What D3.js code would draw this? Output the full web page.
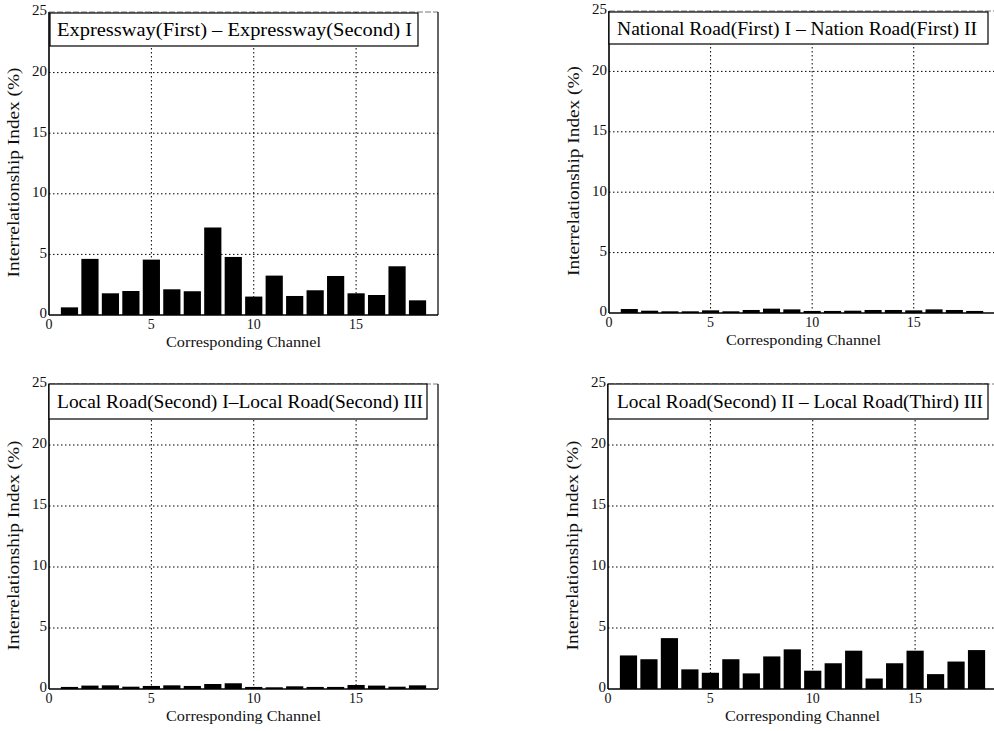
<!DOCTYPE html>
<html><head><meta charset="utf-8">
<script src="https://cdn.jsdelivr.net/npm/d3@7"></script>
<style>body{margin:0;background:#fff}</style>
</head><body>
<svg id="c" width="994" height="731" xmlns="http://www.w3.org/2000/svg"></svg>
<script>
// ---- data ----
const channels = [1,2,3,4,5,6,7,8,9,10,11,12,13,14,15,16,17,18];
const expresswayValues = [0.63,4.63,1.79,1.98,4.57,2.12,1.96,7.22,4.79,1.52,3.25,1.57,2.04,3.22,1.79,1.65,4.02,1.21];
const nationalRoadValues = [0.33,0.19,0.14,0.14,0.22,0.14,0.25,0.36,0.30,0.17,0.17,0.19,0.25,0.25,0.22,0.30,0.25,0.17];
const localSecondValues = [0.17,0.28,0.30,0.19,0.25,0.30,0.25,0.41,0.47,0.17,0.14,0.22,0.17,0.17,0.33,0.28,0.19,0.30];
const localThirdValues = [2.75,2.44,4.17,1.61,1.33,2.44,1.28,2.67,3.25,1.50,2.11,3.14,0.86,2.11,3.14,1.22,2.25,3.19];
const panelTitles = [
  "Expressway(First) \u2013 Expressway(Second) I",
  "National Road(First) I \u2013 Nation Road(First) II",
  "Local Road(Second) I\u2013Local Road(Second) III",
  "Local Road(Second) II \u2013 Local Road(Third) III"
];
const xTicks = [0,5,10,15];
const yTicks = [0,5,10,15,20,25];
const xDomain = [0,19];
const yDomain = [0,25];
const xLabel = "Corresponding Channel";
const yLabel = "Interrelationship Index (%)";

// ---- layout ----
const panels = [
  {values: expresswayValues, title: panelTitles[0], x0:49, x1:438, y0:12, y1:315,
   leg:{x:50, y:13, w:368, h:33, tx:57, tw:355}, showRight:true},
  {values: nationalRoadValues, title: panelTitles[1], x0:609, x1:995, y0:11, y1:313,
   leg:{x:609, y:12, w:379, h:32, tx:617, tw:360}, showRight:false},
  {values: localSecondValues, title: panelTitles[2], x0:49, x1:438, y0:384, y1:689,
   leg:{x:49, y:384, w:378, h:35, tx:57, tw:366}, showRight:true},
  {values: localThirdValues, title: panelTitles[3], x0:608, x1:997, y0:384, y1:689,
   leg:{x:608, y:384, w:380, h:35, tx:617, tw:366}, showRight:false}
];

const svg = d3.select("#c");
const font = "'Liberation Serif','Times New Roman',serif";
svg.append("rect").attr("width",994).attr("height",731).attr("fill","#fff");

panels.forEach(p => {
  const x = d3.scaleLinear().domain(xDomain).range([p.x0, p.x1]);
  const y = d3.scaleLinear().domain(yDomain).range([p.y1, p.y0]);
  const g = svg.append("g");
  const barW = x(0.84) - x(0);

  // grid
  g.selectAll(".vg").data(xTicks.filter(t => t > 0)).join("line")
    .attr("x1", d => x(d)).attr("x2", d => x(d))
    .attr("y1", y(yDomain[1])).attr("y2", y(0))
    .attr("stroke","#000").attr("stroke-width",1).attr("stroke-dasharray","1.5,2.5");
  g.selectAll(".hg").data(yTicks.filter(t => t > 0 && t < 25)).join("line")
    .attr("x1", x(0)).attr("x2", x(xDomain[1]))
    .attr("y1", d => y(d)).attr("y2", d => y(d))
    .attr("stroke","#000").attr("stroke-width",1).attr("stroke-dasharray","1.5,2.5");

  // bars
  g.selectAll(".bar").data(channels).join("rect")
    .attr("x", (d) => x(d) - barW/2)
    .attr("width", barW)
    .attr("y", (d,i) => y(p.values[i]))
    .attr("height", (d,i) => y(0) - y(p.values[i]))
    .attr("fill","#000");

  // axes frame
  g.append("line").attr("x1",x(0)).attr("x2",x(0)).attr("y1",y(25)).attr("y2",y(0))
    .attr("stroke","#000").attr("stroke-width",1.6);
  g.append("line").attr("x1",x(0)).attr("x2",x(xDomain[1])).attr("y1",y(0)).attr("y2",y(0))
    .attr("stroke","#000").attr("stroke-width",1.6);
  g.append("line").attr("x1",x(0)).attr("x2",x(xDomain[1])).attr("y1",y(25)).attr("y2",y(25))
    .attr("stroke","#555").attr("stroke-width",0.8).attr("stroke-dasharray","6,2");
  if (p.showRight) {
    g.append("line").attr("x1",x(xDomain[1])).attr("x2",x(xDomain[1])).attr("y1",y(25)).attr("y2",y(0))
      .attr("stroke","#000").attr("stroke-width",1.2);
  }

  // tick labels
  g.selectAll(".yt").data(yTicks).join("text")
    .attr("x", x(0) - 2).attr("y", d => y(d))
    .attr("text-anchor","end").attr("dominant-baseline","middle")
    .attr("font-family", font).attr("font-size",15).attr("fill","#111")
    .text(d => d);
  g.selectAll(".xt").data(xTicks).join("text")
    .attr("x", d => x(d)).attr("y", y(0) + 14)
    .attr("text-anchor","middle")
    .attr("font-family", font).attr("font-size",14).attr("fill","#111")
    .text(d => d);

  // axis labels
  g.append("text")
    .attr("x", p.x0 + 194.5).attr("y", y(0) + 32)
    .attr("text-anchor","middle")
    .attr("font-family", font).attr("font-size",15).attr("fill","#111")
    .attr("textLength",155).attr("lengthAdjust","spacingAndGlyphs")
    .text(xLabel);
  const cy = (p.y0 + p.y1) / 2 + 9;
  g.append("text")
    .attr("transform", `translate(${p.x0 - 34},${cy}) rotate(-90)`)
    .attr("text-anchor","middle").attr("dominant-baseline","middle")
    .attr("font-family", font).attr("font-size",16).attr("fill","#111")
    .attr("textLength",210).attr("lengthAdjust","spacingAndGlyphs")
    .text(yLabel);

  // legend box
  g.append("rect").attr("x",p.leg.x).attr("y",p.leg.y).attr("width",p.leg.w).attr("height",p.leg.h)
    .attr("fill","#fff").attr("stroke","#000").attr("stroke-width",1.2);
  g.append("text")
    .attr("x", p.leg.tx).attr("y", p.leg.y + p.leg.h/2 + 6.5)
    .attr("font-family", font).attr("font-size",19).attr("fill","#000")
    .attr("textLength", p.leg.tw).attr("lengthAdjust","spacingAndGlyphs")
    .text(p.title);
});
</script>
</body></html>
